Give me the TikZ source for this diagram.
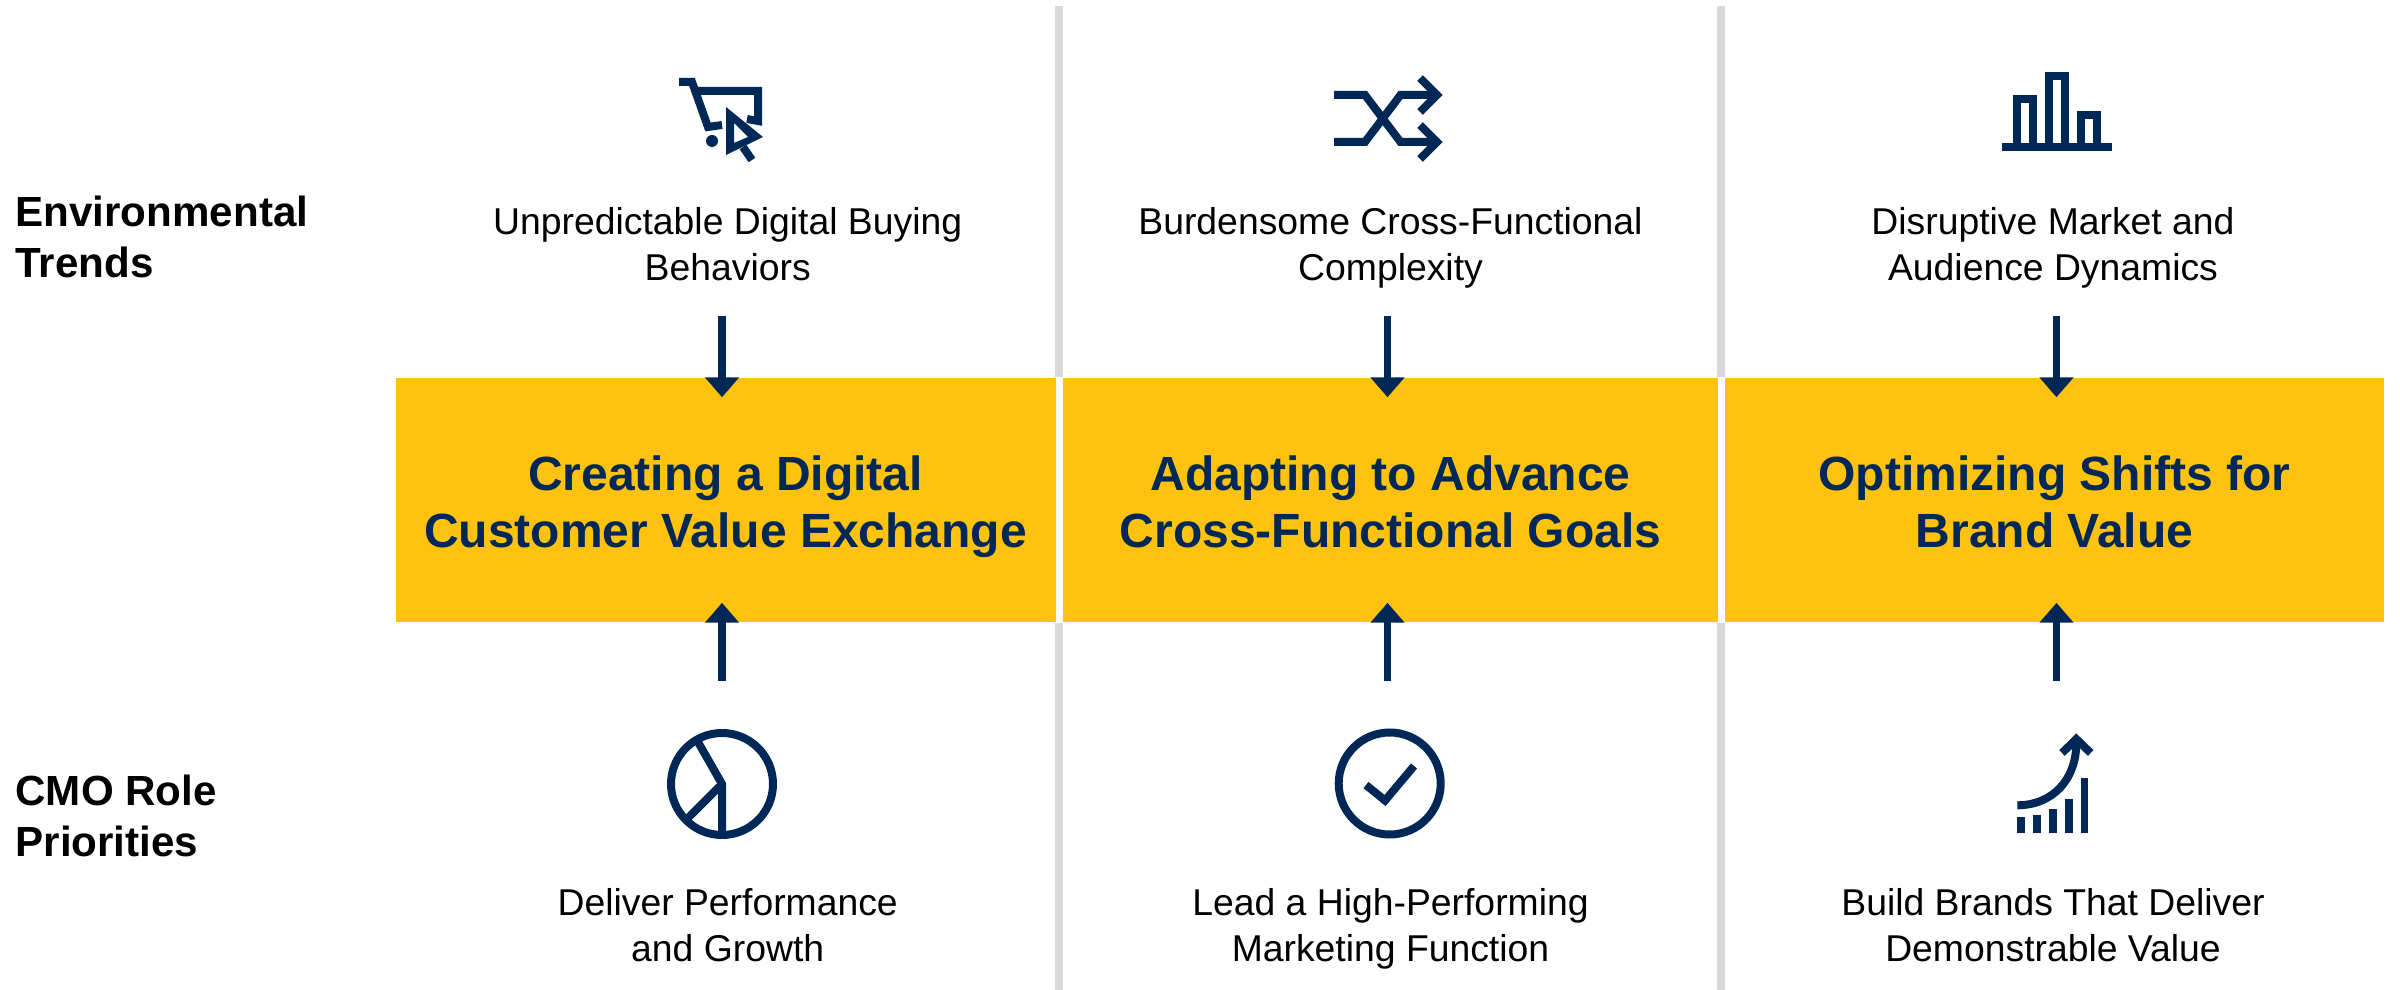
\documentclass[tikz,border=0pt]{standalone}
\usepackage{fontspec}
\setmainfont{Liberation Sans}
\usetikzlibrary{arrows.meta}
\definecolor{navy}{HTML}{002856}
\definecolor{gold}{HTML}{FFC20E}
\definecolor{rule}{HTML}{D9D9D9}
\newcommand{\tlead}{\rule{0pt}{20.6pt}}
\tikzset{
  px/.style={x=0.375pt,y=-0.375pt},
  goldbox/.style={fill=gold,draw=none,inner sep=0pt,anchor=north west,align=center,text=navy,minimum height=244*0.375pt,font=\bfseries\fontsize{18}{21.3}\selectfont},
  bodytext/.style={align=center,text=black,inner sep=0pt,font=\fontsize{14}{17.2}\selectfont},
  rowlabel/.style={align=left,anchor=west,text=black,inner sep=0pt,font=\bfseries\fontsize{15.8}{19.2}\selectfont},
  divider/.style={draw=rule,line width=3pt},
  arr/.style={draw=navy,line width=2.8pt,-{Triangle[width=12.3pt,length=7.4pt]},shorten >=-7.4pt},
  ico/.style={draw=navy,line width=3pt,miter limit=10},
}
\begin{document}
\begin{tikzpicture}[px]
\useasboundingbox (0,0) rectangle (2400,990);
% gold boxes
\node[goldbox,minimum width=660*0.375pt] (b1) at (395,377.5) {\tlead Creating a Digital\\\strut Customer Value Exchange};
\node[goldbox,minimum width=655*0.375pt] (b2) at (1062.5,377.5) {\tlead Adapting to Advance\\\strut Cross-Functional Goals};
\node[goldbox,minimum width=659*0.375pt] (b3) at (1724.5,377.5) {\tlead Optimizing Shifts for\\\strut Brand Value};
% dividers
\coordinate (d1a) at (1058.5,6);
\coordinate (d1b) at (1058.5,990);
\coordinate (d2a) at (1721,6);
\coordinate (d2b) at (1721,990);
\draw[divider] (d1a) -- (d1a |- b1.north);
\draw[divider] (d1b) -- (d1b |- b1.south);
\draw[divider] (d2a) -- (d2a |- b1.north);
\draw[divider] (d2b) -- (d2b |- b1.south);
% row labels
\node[rowlabel] (l1) at (15,241.5) {\strut Environmental\\\strut Trends};
\node[rowlabel] (l2) at (15,820.5) {\strut CMO Role\\\strut Priorities};
% texts
\node[bodytext] (t1) at (727.7,248) {\strut Unpredictable Digital Buying\\\strut Behaviors};
\node[bodytext] (t2) at (1390.5,248) {\strut Burdensome Cross-Functional\\\strut Complexity};
\node[bodytext] (t3) at (2053,248) {\strut Disruptive Market and\\\strut Audience Dynamics};
\node[bodytext] (t4) at (727.7,929) {\strut Deliver Performance\\\strut and Growth};
\node[bodytext] (t5) at (1390.5,929) {\strut Lead a High-Performing\\\strut Marketing Function};
\node[bodytext] (t6) at (2053,929) {\strut Build Brands That Deliver\\\strut Demonstrable Value};
% arrow starts
\coordinate (s1) at (722,316);
\coordinate (s2) at (1387.5,316);
\coordinate (s3) at (2056.5,316);
\coordinate (s4) at (722,681);
\coordinate (s5) at (1387.5,681);
\coordinate (s6) at (2056.5,681);
\draw[arr] (s1) -- (s1 |- b1.north);
\draw[arr] (s2) -- (s2 |- b2.north);
\draw[arr] (s3) -- (s3 |- b3.north);
\draw[arr] (s4) -- (s4 |- b1.south);
\draw[arr] (s5) -- (s5 |- b2.south);
\draw[arr] (s6) -- (s6 |- b3.south);
% cart icon
\draw[ico] (679,82) -- (692,82) -- (708,127) -- (722,125);
\draw[ico] (698,91) -- (758,91) -- (758,121) -- (747,119);
\fill[navy,even odd rule] (726,107) -- (763,137) -- (726,155) -- cycle (734,123) -- (748,137) -- (734,143) -- cycle;
\draw[ico] (743,147) -- (752,160);
\fill[navy] (712,141) circle (6);
% shuffle icon
\draw[ico] (1334,95) -- (1365,95) -- (1400.5,142) -- (1436,142);
\draw[ico] (1334,142) -- (1365,142) -- (1400.5,95) -- (1436,95);
\draw[ico] (1420,78) -- (1437,95) -- (1420,112);
\draw[ico] (1420,125) -- (1437,142) -- (1420,159);
% bars icon
\draw[ico] (2017,147) -- (2017,99) -- (2033,99) -- (2033,147);
\draw[ico] (2049,147) -- (2049,76) -- (2065,76) -- (2065,147);
\draw[ico] (2080.7,147) -- (2080.7,115) -- (2096.7,115) -- (2096.7,147);
\draw[ico] (2002,147) -- (2112,147);
% pie icon
\draw[ico] (722,784) circle (51);
\draw[ico] (698,742) -- (722,784) -- (722,833);
\draw[ico] (722,784) -- (688,818);
% check icon
\draw[ico] (1389.7,783.5) circle (51);
\draw[ico] (1366,785) -- (1385,800.5) -- (1414,766);
% growth icon
\draw[ico] (2017.3,805.3) .. controls (2052,805.3) and (2076.3,780) .. (2076.3,743);
\draw[ico] (2062,753) -- (2076.3,739) -- (2090.7,753);
\fill[navy] (2017.3,817) rectangle (2025,833);
\fill[navy] (2033.3,815) rectangle (2041,833);
\fill[navy] (2049,809) rectangle (2056.7,833);
\fill[navy] (2065,799) rectangle (2072.5,833);
\fill[navy] (2080.7,778) rectangle (2088.3,833);
\end{tikzpicture}
\end{document}
